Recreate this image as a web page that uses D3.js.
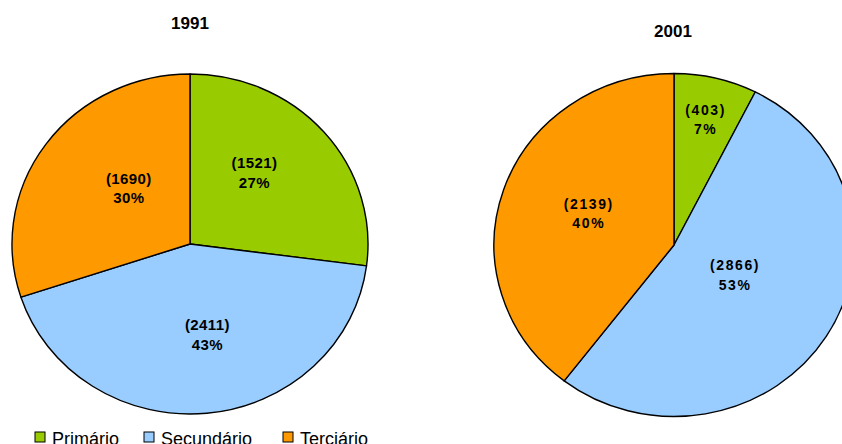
<!DOCTYPE html>
<html>
<head>
<meta charset="utf-8">
<script src="https://cdn.jsdelivr.net/npm/d3@7"></script>
<style>
  body { margin: 0; background: #fff; }
  svg { display: block; font-family: Arial, "Liberation Sans", Helvetica, sans-serif; }
</style>
</head>
<body>
<svg id="chart" width="842" height="444"></svg>
<script>
// data
var sectors = ["Primário", "Secundário", "Terciário"];
var years = ["1991", "2001"];
var values1991 = [1521, 2411, 1690];
var values2001 = [403, 2866, 2139];
var percent1991 = ["27%", "43%", "30%"];
var percent2001 = ["7%", "53%", "40%"];

var colors = ["#99cc00", "#99ccff", "#ff9900"];

// layout of the two pies (they are slightly wider than tall)
var pies = [
    {title: years[0], values: values1991, pct: percent1991,
     cx: 190, cy: 244, rx: 178, ry: 170, titleX: 190, titleY: 29, font: 15, spacing: 0.4,
     labelR: [0.555, 0.541, 0.477], labelShift: [-8, -5, 8]},
    {title: years[1], values: values2001, pct: percent2001,
     cx: 674, cy: 245, rx: 180, ry: 171.5, titleX: 673, titleY: 37, font: 14, spacing: 1.6,
     labelR: [0.758, 0.379, 0.51], labelShift: [0, -5.7, 3]}
];

var svg = d3.select("#chart");

var pie = d3.pie().sort(null).value(function(d) { return d; });

pies.forEach(function(p) {
    var arcs = pie(p.values);
    var arc = d3.arc().innerRadius(0).outerRadius(p.ry);

    svg.append("text")
        .attr("x", p.titleX)
        .attr("y", p.titleY)
        .attr("text-anchor", "middle")
        .style("font-size", "17px")
        .style("font-weight", "bold")
        .text(p.title);

    var g = svg.append("g")
        .attr("transform", "translate(" + p.cx + "," + p.cy + ") scale(" + (p.rx / p.ry) + ",1)");

    g.selectAll("path")
        .data(arcs)
        .enter().append("path")
        .attr("d", arc)
        .attr("fill", function(d, i) { return colors[i]; })
        .attr("stroke", "#000")
        .attr("stroke-width", 1.4)
        .attr("stroke-linejoin", "round")
        .attr("vector-effect", "non-scaling-stroke");

    // labels: value in brackets plus percentage
    var labels = svg.selectAll(null)
        .data(arcs)
        .enter().append("text")
        .attr("text-anchor", "middle")
        .style("font-size", p.font + "px")
        .style("font-weight", "bold")
        .style("letter-spacing", p.spacing + "px")
        .attr("transform", function(d, i) {
            var a = (d.startAngle + d.endAngle) / 2 + p.labelShift[i] * Math.PI / 180;
            var x = p.cx + p.rx * p.labelR[i] * Math.sin(a);
            var y = p.cy - p.ry * p.labelR[i] * Math.cos(a);
            return "translate(" + x + "," + y + ")";
        });

    labels.append("tspan")
        .attr("x", 0)
        .attr("y", -4)
        .text(function(d) { return "(" + d.data + ")"; });
    labels.append("tspan")
        .attr("x", 0)
        .attr("y", 15.5)
        .text(function(d, i) { return p.pct[i]; });
});

// legend along the bottom
var legendX = [35, 144, 283];
var legend = svg.selectAll(".legend")
    .data(sectors)
    .enter().append("g")
    .attr("class", "legend")
    .attr("transform", function(d, i) { return "translate(" + legendX[i] + ",432)"; });

legend.append("rect")
    .attr("width", 10)
    .attr("height", 10)
    .attr("fill", function(d, i) { return colors[i]; })
    .attr("stroke", "#000")
    .attr("stroke-width", 1);

legend.append("text")
    .attr("x", 17)
    .attr("y", 12.5)
    .style("font-size", "18px")
    .text(function(d) { return d; });
</script>
</body>
</html>
